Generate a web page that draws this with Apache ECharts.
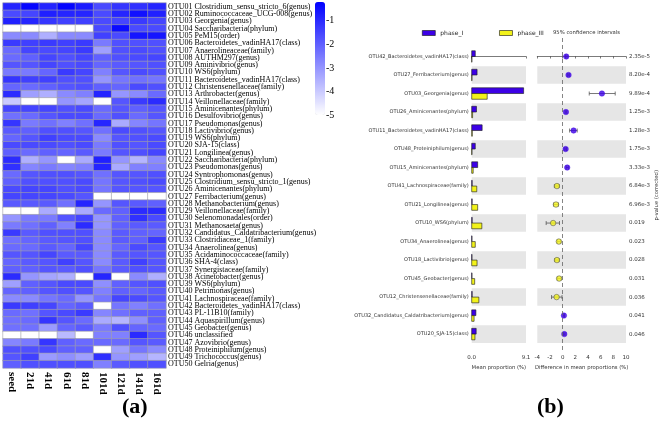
<!DOCTYPE html>
<html>
<head>
<meta charset="utf-8">
<script src="https://cdn.jsdelivr.net/npm/echarts@6/dist/echarts.min.js"></script>
<style>
  html, body { margin: 0; padding: 0; background: #fff; }
  #main { width: 660px; height: 422px; }
</style>
</head>
<body>
<div id="main"></div>
<script>
// (a) heatmap
var columns = ['seed', '21d', '41d', '61d', '81d', '101d', '121d', '141d', '161d'];
var otuNames = [
  'OTU01 Clostridium_sensu_stricto_6(genus)', 'OTU02 Ruminococcaceae_UCG-008(genus)', 'OTU03 Georgenia(genus)',
  'OTU04 Saccharibacteria(phylum)', 'OTU05 PeM15(order)', 'OTU06 Bacteroidetes_vadinHA17(class)',
  'OTU07 Anaerolineaceae(family)', 'OTU08 AUTHM297(genus)', 'OTU09 Aminivibrio(genus)', 'OTU10 WS6(phylum)',
  'OTU11 Bacteroidetes_vadinHA17(class)', 'OTU12 Christensenellaceae(family)', 'OTU13 Arthrobacter(genus)',
  'OTU14 Veillonellaceae(family)', 'OTU15 Aminicenantes(phylum)', 'OTU16 Desulfovibrio(genus)',
  'OTU17 Pseudomonas(genus)', 'OTU18 Lactivibrio(genus)', 'OTU19 WS6(phylum)', 'OTU20 SJA-15(class)',
  'OTU21 Longilinea(genus)', 'OTU22 Saccharibacteria(phylum)', 'OTU23 Pseudomonas(genus)',
  'OTU24 Syntrophomonas(genus)', 'OTU25 Clostridium_sensu_stricto_1(genus)', 'OTU26 Aminicenantes(phylum)',
  'OTU27 Ferribacterium(genus)', 'OTU28 Methanobacterium(genus)', 'OTU29 Veillonellaceae(family)',
  'OTU30 Selenomonadales(order)', 'OTU31 Methanosaeta(genus)', 'OTU32 Candidatus_Caldatribacterium(genus)',
  'OTU33 Clostridiaceae_1(family)', 'OTU34 Anaerolinea(genus)', 'OTU35 Acidaminococcaceae(family)',
  'OTU36 SHA-4(class)', 'OTU37 Synergistaceae(family)', 'OTU38 Acinetobacter(genus)', 'OTU39 WS6(phylum)',
  'OTU40 Petrimonas(genus)', 'OTU41 Lachnospiraceae(family)', 'OTU42 Bacteroidetes_vadinHA17(class)',
  'OTU43 PL-11B10(family)', 'OTU44 Aquaspirillum(genus)', 'OTU45 Geobacter(genus)', 'OTU46 unclassified',
  'OTU47 Azovibrio(genus)', 'OTU48 Proteiniphilum(genus)', 'OTU49 Trichococcus(genus)', 'OTU50 Gelria(genus)'
];
// log10 relative abundance, one row per OTU, one value per column
var heatRows = [
  [-0.9, -0.3, -0.9, -0.3, -0.7, -1.6, -1.2, -1.1, -0.9],
  [-1.6, -1.5, -0.8, -0.9, -0.9, -1.6, -0.9, -0.5, -0.8],
  [-0.8, -0.9, -1.2, -1.4, -1.4, -1.6, -1.5, -1.3, -1.5],
  [-5.0, -5.0, -5.0, -5.0, -5.0, -1.6, -0.4, -1.6, -1.6],
  [-2.8, -2.8, -3.5, -2.8, -2.8, -1.4, -1.6, -0.6, -0.6],
  [-1.3, -1.4, -1.3, -1.4, -1.3, -2.5, -1.7, -1.7, -1.7],
  [-2.2, -1.5, -1.6, -1.5, -1.3, -3.2, -1.7, -1.6, -1.7],
  [-2.2, -2.0, -1.5, -1.7, -1.5, -2.0, -1.7, -1.6, -1.5],
  [-1.8, -1.8, -1.5, -1.7, -1.6, -2.1, -1.9, -1.8, -1.7],
  [-2.5, -2.5, -2.1, -1.3, -1.5, -2.6, -1.8, -1.6, -1.7],
  [-1.2, -1.4, -1.4, -1.7, -1.7, -3.0, -2.4, -2.3, -2.4],
  [-2.1, -2.2, -2.0, -1.8, -1.7, -2.0, -2.1, -1.6, -1.7],
  [-1.0, -3.2, -3.5, -2.8, -2.6, -0.9, -3.0, -2.8, -2.2],
  [-4.0, -5.0, -5.0, -3.0, -3.3, -5.0, -1.8, -1.3, -1.0],
  [-1.5, -1.5, -1.5, -1.7, -1.6, -2.2, -1.8, -2.0, -1.8],
  [-2.3, -2.2, -1.8, -1.6, -1.6, -2.2, -1.7, -2.2, -1.8],
  [-1.2, -2.5, -2.3, -2.6, -2.3, -0.9, -3.4, -2.7, -2.4],
  [-1.9, -2.0, -1.7, -1.7, -1.8, -2.3, -1.6, -1.7, -1.8],
  [-2.1, -1.8, -1.4, -1.6, -1.6, -2.8, -1.8, -1.7, -1.6],
  [-1.6, -1.6, -1.6, -1.7, -1.6, -2.5, -1.7, -1.8, -1.6],
  [-2.0, -2.2, -2.0, -2.1, -1.9, -2.5, -1.8, -1.7, -1.5],
  [-1.0, -3.5, -3.0, -5.0, -3.4, -0.8, -3.0, -3.6, -2.8],
  [-1.1, -2.7, -2.5, -2.7, -2.6, -0.9, -3.4, -2.6, -2.6],
  [-2.2, -1.8, -1.7, -1.7, -1.8, -2.3, -1.8, -1.8, -1.7],
  [-2.0, -1.7, -1.7, -1.7, -1.6, -2.4, -1.8, -1.7, -1.6],
  [-1.6, -1.5, -1.5, -1.7, -1.6, -2.4, -1.8, -1.8, -1.8],
  [-1.5, -1.5, -1.5, -1.6, -1.8, -5.0, -5.0, -5.0, -5.0],
  [-1.9, -1.9, -1.9, -2.3, -0.9, -3.0, -1.8, -1.9, -2.0],
  [-5.0, -5.0, -3.4, -5.0, -3.4, -2.2, -2.0, -1.0, -1.0],
  [-3.0, -2.5, -2.5, -1.8, -1.5, -3.0, -2.0, -1.1, -1.6],
  [-2.5, -2.3, -2.0, -2.6, -1.0, -3.0, -2.0, -1.9, -1.9],
  [-1.3, -1.9, -1.7, -1.7, -1.7, -2.8, -1.9, -2.0, -2.1],
  [-2.3, -2.1, -1.9, -1.8, -1.7, -2.8, -1.9, -2.0, -1.3],
  [-2.2, -2.2, -1.9, -2.1, -1.5, -2.8, -2.1, -1.6, -1.8],
  [-1.8, -1.8, -1.5, -1.9, -1.9, -2.8, -1.9, -1.8, -1.8],
  [-2.1, -1.9, -1.8, -1.4, -1.8, -2.8, -1.9, -1.4, -1.8],
  [-2.0, -2.0, -1.8, -1.9, -1.7, -2.4, -1.9, -1.7, -1.8],
  [-1.0, -3.0, -3.3, -3.5, -5.0, -0.9, -5.0, -2.8, -3.5],
  [-3.2, -2.0, -1.8, -1.6, -1.6, -2.9, -2.0, -1.8, -1.7],
  [-2.1, -2.0, -1.8, -1.7, -1.8, -2.6, -2.0, -2.1, -1.9],
  [-2.8, -2.8, -2.4, -2.2, -3.0, -2.4, -1.5, -1.6, -1.8],
  [-1.3, -1.4, -1.5, -2.1, -1.9, -5.0, -2.4, -2.6, -2.3],
  [-2.2, -2.3, -1.8, -1.6, -1.3, -2.7, -2.3, -2.0, -2.0],
  [-2.3, -2.2, -1.2, -1.8, -2.2, -3.4, -3.6, -2.9, -2.0],
  [-2.3, -2.3, -3.1, -2.1, -1.9, -2.5, -1.7, -2.1, -2.2],
  [-5.0, -5.0, -5.0, -3.7, -5.0, -2.6, -2.6, -1.0, -1.8],
  [-2.7, -2.5, -1.2, -2.0, -2.2, -2.2, -2.2, -1.8, -1.9],
  [-1.7, -1.7, -1.6, -2.0, -2.0, -5.0, -3.2, -2.4, -2.8],
  [-1.8, -1.4, -3.1, -2.9, -3.2, -1.1, -3.0, -3.2, -3.6],
  [-2.0, -1.7, -1.7, -1.7, -1.7, -2.6, -1.9, -1.7, -1.7]
];

// (b) extended error bar plot
var diffNames = [
  'OTU42_Bacteroidetes_vadinHA17(class)', 'OTU27_Ferribacterium(genus)', 'OTU03_Georgenia(genus)',
  'OTU26_Aminicenantes(phylum)', 'OTU11_Bacteroidetes_vadinHA17(class)', 'OTU48_Proteiniphilum(genus)',
  'OTU15_Aminicenantes(phylum)', 'OTU41_Lachnospiraceae(family)', 'OTU21_Longilinea(genus)',
  'OTU10_WS6(phylum)', 'OTU34_Anaerolinea(genus)', 'OTU18_Lactivibrio(genus)', 'OTU45_Geobacter(genus)',
  'OTU12_Christensenellaceae(family)', 'OTU32_Candidatus_Caldatribacterium(genus)', 'OTU20_SJA-15(class)'
];
var phaseI = [0.6, 0.9, 8.7, 0.8, 1.75, 0.6, 1.0, 0.08, 0.08, 0.08, 0.05, 0.05, 0.05, 0.08, 0.7, 0.75];
var phaseIII = [0.03, 0.05, 2.6, 0.15, 0.1, 0.05, 0.25, 0.85, 1.0, 1.7, 0.6, 0.9, 0.5, 1.2, 0.4, 0.55];
var diffMean = [0.57, 0.93, 6.2, 0.52, 1.73, 0.47, 0.72, -0.9, -1.05, -1.5, -0.6, -0.9, -0.55, -0.95, 0.2, 0.26];
var ciLow = [0.45, 0.8, 4.2, 0.4, 1.1, 0.35, 0.55, -1.3, -1.45, -2.6, -0.85, -1.25, -0.85, -1.75, 0.1, 0.15];
var ciHigh = [0.7, 1.05, 8.3, 0.65, 2.3, 0.6, 0.9, -0.55, -0.65, -0.5, -0.3, -0.55, -0.25, -0.1, 0.3, 0.37];
var pValues = ['2.35e-5', '8.20e-4', '9.89e-4', '1.25e-3', '1.28e-3', '1.75e-3', '3.33e-3', '6.84e-3',
  '6.96e-3', '0.019', '0.023', '0.028', '0.031', '0.036', '0.041', '0.046'];

var purple = '#3c00e6';
var yellow = '#f2f21a';
var sans = 'DejaVu Sans';
var serif = 'Liberation Serif';

var chart = echarts.init(document.getElementById('main'));

var heatData = [];
heatRows.forEach(function (row, r) {
  row.forEach(function (v, c) { heatData.push([c, r, v]); });
});

var bandData = [];
diffNames.forEach(function (n, i) { if (i % 2 === 1) bandData.push([0, i]); });

function barRender(below) {
  return function (params, api) {
    var row = api.value(1);
    var s = api.size([0, 1])[1];
    var p0 = api.coord([0, row]);
    var p1 = api.coord([api.value(0), row]);
    var h = s * 0.31;
    return {
      type: 'rect',
      shape: { x: p0[0], y: below ? p0[1] : p0[1] - h, width: p1[0] - p0[0], height: h },
      style: { fill: api.visual('color'), stroke: '#1a1a1a', lineWidth: 0.6 }
    };
  };
}

function bandRender(params, api) {
  var cs = params.coordSys;
  var c = api.coord([0, api.value(1)])[1];
  var h = api.size([0, 1])[1] * 0.95;
  return {
    type: 'rect',
    shape: { x: cs.x, y: c - h / 2, width: cs.width, height: h },
    style: { fill: '#e6e6e6' }
  };
}

function errRender(params, api) {
  var row = api.value(2);
  var a = api.coord([api.value(0), row]);
  var b = api.coord([api.value(1), row]);
  var st = { stroke: '#555', lineWidth: 0.8 };
  return {
    type: 'group',
    children: [
      { type: 'line', shape: { x1: a[0], y1: a[1], x2: b[0], y2: b[1] }, style: st },
      { type: 'line', shape: { x1: a[0], y1: a[1] - 2, x2: a[0], y2: a[1] + 2 }, style: st },
      { type: 'line', shape: { x1: b[0], y1: b[1] - 2, x2: b[0], y2: b[1] + 2 }, style: st }
    ]
  };
}

var rowAxis = {
  type: 'value', min: -1, max: 16, interval: 1, inverse: true,
  axisLine: { show: false }, axisTick: { show: false }, splitLine: { show: false }
};
var smallLabel = { fontFamily: sans, fontSize: 5.5, color: '#333' };

var option = {
  animation: false,
  backgroundColor: '#fff',
  grid: [
    { left: 3, top: 3, width: 163, height: 365 },
    { left: 315, top: 2, width: 10, height: 113 },
    { left: 471.7, top: 38, width: 54.3, height: 314.6 },
    { left: 537.3, top: 38, width: 92, height: 314.6 }
  ],
  visualMap: {
    type: 'continuous', seriesIndex: 0, dimension: 2,
    min: -5, max: -0.2, calculable: false, showLabel: false,
    left: 315, top: 2, itemWidth: 10, itemHeight: 113, padding: 0,
    inRange: { color: ['#ffffff', '#0000ff'] }
  },
  legend: {
    left: 422, top: 30, itemWidth: 13, itemHeight: 5, itemGap: 36, padding: 0,
    textStyle: { fontFamily: sans, fontSize: 6, color: '#222' },
    data: [
      { name: 'phase_I', icon: 'rect', itemStyle: { color: purple, borderColor: '#111', borderWidth: 0.6 } },
      { name: 'phase_III', icon: 'rect', itemStyle: { color: yellow, borderColor: '#111', borderWidth: 0.6 } }
    ]
  },
  graphic: [
    { type: 'text', left: 122, top: 396, style: { text: '(a)', font: 'bold 22px "Liberation Serif"', fill: '#000' } },
    { type: 'text', left: 537, top: 396, style: { text: '(b)', font: 'bold 22px "Liberation Serif"', fill: '#000' } },
    { type: 'text', left: 553, top: 30, style: { text: '95% confidence intervals', font: '5.3px "DejaVu Sans"', fill: '#333' } }
  ],
  xAxis: [
    {
      type: 'category', gridIndex: 0, data: columns,
      axisLine: { show: false }, axisTick: { show: false },
      axisLabel: { rotate: -90, margin: 4, interval: 0, fontFamily: serif, fontWeight: 'bold', fontSize: 11, color: '#000' }
    },
    { type: 'value', gridIndex: 1, show: false, min: 0, max: 1 },
    {
      type: 'value', gridIndex: 2, min: 0, max: 9.1, interval: 9.1,
      name: 'Mean proportion (%)', nameLocation: 'middle', nameGap: 11,
      nameTextStyle: { fontFamily: sans, fontSize: 5.3, color: '#333' },
      axisLine: { lineStyle: { color: '#222', width: 0.6 } },
      axisTick: { length: 2, lineStyle: { color: '#222', width: 0.6 } },
      splitLine: { show: false },
      axisLabel: Object.assign({ margin: 2, formatter: function (v) { return v.toFixed(1); } }, smallLabel)
    },
    {
      type: 'value', gridIndex: 3, min: -4, max: 10, interval: 2,
      name: 'Difference in mean proportions (%)', nameLocation: 'middle', nameGap: 11,
      nameTextStyle: { fontFamily: sans, fontSize: 5.3, color: '#333' },
      axisLine: { lineStyle: { color: '#222', width: 0.6 } },
      axisTick: { length: 2, lineStyle: { color: '#222', width: 0.6 } },
      splitLine: { show: false },
      axisLabel: Object.assign({ margin: 2 }, smallLabel)
    }
  ],
  yAxis: [
    {
      type: 'category', gridIndex: 0, data: otuNames, inverse: true, position: 'right',
      axisLine: { show: false }, axisTick: { show: false },
      axisLabel: { interval: 0, margin: 2, fontFamily: serif, fontSize: 8, color: '#000' }
    },
    {
      type: 'value', gridIndex: 1, position: 'right', min: -5, max: -0.2, interval: 1,
      axisLine: { show: false }, axisTick: { show: false }, splitLine: { show: false },
      axisLabel: {
        margin: 1, fontFamily: serif, fontSize: 10, color: '#000',
        formatter: function (v) { return Number.isInteger(v) ? String(v) : ''; }
      }
    },
    Object.assign({}, rowAxis, {
      gridIndex: 2,
      axisLabel: Object.assign({ margin: 3, formatter: function (v) { return diffNames[v] || ''; } }, smallLabel, { fontSize: 5 })
    }),
    Object.assign({}, rowAxis, { gridIndex: 3, axisLabel: { show: false } }),
    Object.assign({}, rowAxis, {
      gridIndex: 3, position: 'right',
      name: 'p-value (corrected)', nameLocation: 'middle', nameRotate: 90, nameGap: 24,
      nameTextStyle: { fontFamily: sans, fontSize: 5.3, color: '#333' },
      axisLabel: Object.assign({ margin: 3, formatter: function (v) { return pValues[v] || ''; } }, smallLabel)
    })
  ],
  series: [
    {
      type: 'heatmap', xAxisIndex: 0, yAxisIndex: 0, data: heatData,
      itemStyle: { borderColor: '#a0a0a8', borderWidth: 0.6 },
      emphasis: { disabled: true }
    },
    {
      type: 'custom', name: 'bandsL', xAxisIndex: 2, yAxisIndex: 2, z: 0, silent: true,
      renderItem: bandRender, encode: { x: 0, y: 1 }, data: bandData
    },
    {
      type: 'custom', name: 'bandsR', xAxisIndex: 3, yAxisIndex: 3, z: 0, silent: true,
      renderItem: bandRender, encode: { x: 0, y: 1 }, data: bandData
    },
    {
      type: 'custom', name: 'phase_I', xAxisIndex: 2, yAxisIndex: 2, z: 3,
      itemStyle: { color: purple },
      renderItem: barRender(false), encode: { x: 0, y: 1 },
      data: phaseI.map(function (v, i) { return [v, i]; })
    },
    {
      type: 'custom', name: 'phase_III', xAxisIndex: 2, yAxisIndex: 2, z: 3,
      itemStyle: { color: yellow },
      renderItem: barRender(true), encode: { x: 0, y: 1 },
      data: phaseIII.map(function (v, i) { return [v, i]; })
    },
    {
      type: 'custom', name: 'ci', xAxisIndex: 3, yAxisIndex: 3, z: 3,
      renderItem: errRender, encode: { x: [0, 1], y: 2 },
      data: ciLow.map(function (v, i) { return [v, ciHigh[i], i]; }),
      markLine: {
        silent: true, symbol: 'none', label: { show: false },
        lineStyle: { type: [4, 3], color: '#666', width: 0.8 },
        data: [{ xAxis: 0 }]
      }
    },
    {
      type: 'scatter', name: 'diff', xAxisIndex: 3, yAxisIndex: 3, z: 4,
      symbol: 'circle', symbolSize: 5.5,
      data: diffMean.map(function (v, i) {
        return {
          value: [v, i],
          itemStyle: v > 0 ? { color: purple, borderColor: purple, borderWidth: 0.5 }
                           : { color: yellow, borderColor: '#555', borderWidth: 0.7 }
        };
      })
    }
  ]
};

chart.setOption(option);
</script>
</body>
</html>
